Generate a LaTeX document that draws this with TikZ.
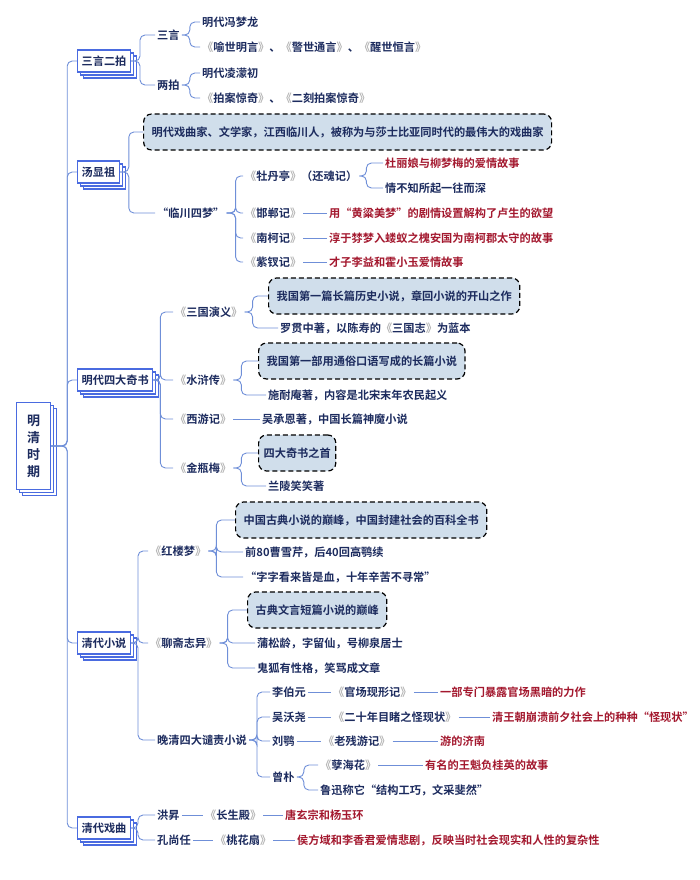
\documentclass[tikz,border=0pt]{standalone}
\usepackage{fontspec}
\setmainfont{Noto Sans CJK SC}[BoldFont={Noto Sans CJK SC Bold}]
\usetikzlibrary{shadows}
\definecolor{navy}{HTML}{1C2B5E}
\definecolor{dred}{HTML}{A3182E}
\definecolor{lineb}{HTML}{6F8FD8}
\definecolor{boxb}{HTML}{4A6BE0}
\definecolor{dfill}{HTML}{D0DEEB}
\newcommand\bk[1]{{\color{gray!60}《}#1{\color{gray!60}》}}
\newcommand\br[3]{\foreach \c in {#3}{\draw[conn] (#1.east) -- ++(#2,0) |- (\c.west);}}
\newcommand\dl[2]{\draw[conn] (#1.east) -- (#2.west);}
\begin{document}
\begin{tikzpicture}[x=1pt,y=-1pt,
 every node/.style={font=\fontsize{11.2}{13}\selectfont\bfseries, text=navy},
 t/.style={anchor=west, inner sep=2pt},
 r/.style={t, text=dred},
 conn/.style={draw=lineb, line width=0.9pt, rounded corners=5pt},
 l1/.style={draw=boxb, line width=1.2pt, fill=white, minimum height=22pt, inner sep=4pt, anchor=west,
   double copy shadow={shadow xshift=3pt, shadow yshift=-3pt, draw=boxb, fill=white, line width=1.2pt}},
 db/.style={draw=black, dashed, dash pattern=on 5pt off 3pt, line width=1.2pt, fill=dfill, rounded corners=8pt, anchor=west, inner xsep=8pt, minimum height=36pt}]
\useasboundingbox (0,0) rectangle (700,880);
\node[l1, minimum width=34pt, minimum height=87pt, align=center, font=\fontsize{13}{17}\selectfont\bfseries] (root) at (16,446) {明\\清\\时\\期};
\node[l1] (a) at (77,61) {三言二拍};
\node[l1] (b) at (77,172) {汤显祖};
\node[l1] (c) at (77,380) {明代四大奇书};
\node[l1] (d) at (77,643) {清代小说};
\node[l1] (e) at (77,828) {清代戏曲};
\br{root}{16}{a,b,c,d,e}
% a
\node[t] (a1) at (155,35) {三言};
\node[t] (a2) at (155,85) {两拍};
\br{a}{9}{a1,a2}
\node[t] (a11) at (200,22) {明代冯梦龙};
\node[t] (a12) at (200,47) {\bk{喻世明言}、\bk{警世通言}、\bk{醒世恒言}};
\node[t] (a21) at (200,73) {明代凌濛初};
\node[t] (a22) at (200,98) {\bk{拍案惊奇}、\bk{二刻拍案惊奇}};
\br{a1}{8}{a11,a12}
\br{a2}{8}{a21,a22}
% b
\node[db] (b1) at (143,132) {明代戏曲家、文学家，江西临川人，被称为与莎士比亚同时代的最伟大的戏曲家};
\node[t] (b2) at (155,213) {“临川四梦”};
\br{b}{9}{b1,b2}
\node[t] (b21) at (243,176) {\bk{牡丹亭}（还魂记）};
\node[t] (b22) at (243,213) {\bk{邯郸记}};
\node[t] (b23) at (243,238) {\bk{南柯记}};
\node[t] (b24) at (243,262) {\bk{紫钗记}};
\br{b2}{9}{b21,b22,b23,b24}
\node[r] (b211) at (383,163) {杜丽娘与柳梦梅的爱情故事};
\node[t] (b212) at (383,188) {情不知所起一往而深};
\br{b21}{7}{b211,b212}
\node[r] (b221) at (327,213) {用“黄粱美梦”的剧情设置解构了卢生的欲望};
\node[r] (b231) at (327,238) {淳于棼梦入蝼蚁之槐安国为南柯郡太守的故事};
\node[r] (b241) at (327,262) {才子李益和霍小玉爱情故事};
\dl{b22}{b221}\dl{b23}{b231}\dl{b24}{b241}
% c
\node[t] (c1) at (173,312) {\bk{三国演义}};
\node[t] (c2) at (173,380) {\bk{水浒传}};
\node[t] (c3) at (173,419) {\bk{西游记}};
\node[t] (c4) at (173,468) {\bk{金瓶梅}};
\br{c}{7}{c1,c2,c3,c4}
\node[db] (c11) at (268,296) {我国第一篇长篇历史小说，章回小说的开山之作};
\node[t] (c12) at (278,328) {罗贯中著，以陈寿的\bk{三国志}为蓝本};
\br{c1}{8}{c11,c12}
\node[db] (c21) at (258,361) {我国第一部用通俗口语写成的长篇小说};
\node[t] (c22) at (266,395) {施耐庵著，内容是北宋末年农民起义};
\br{c2}{8}{c21,c22}
\node[t] (c31) at (260,419) {吴承恩著，中国长篇神魔小说};
\dl{c3}{c31}
\node[db, inner xsep=5pt] (c41) at (258,453) {四大奇书之首};
\node[t] (c42) at (266,486) {兰陵笑笑著};
\br{c4}{8}{c41,c42}
% d
\node[t] (d1) at (148,551) {\bk{红楼梦}};
\node[t] (d2) at (148,643) {\bk{聊斋志异}};
\node[t] (d3) at (155,740) {晚清四大谴责小说};
\br{d}{7}{d1,d2,d3}
\node[db] (d11) at (235,520) {中国古典小说的巅峰，中国封建社会的百科全书};
\node[t] (d12) at (243,552) {前80曹雪芹，后40回高鹗续};
\node[t] (d13) at (243,577) {“字字看来皆是血，十年辛苦不寻常”};
\br{d1}{8}{d11,d12,d13}
\node[db] (d21) at (247,610) {古典文言短篇小说的巅峰};
\node[t] (d22) at (255,643) {蒲松龄，字留仙，号柳泉居士};
\node[t] (d23) at (255,668) {鬼狐有性格，笑骂成文章};
\br{d2}{8}{d21,d22,d23}
\node[t] (d31) at (270,692) {李伯元};
\node[t] (d32) at (270,717) {吴沃尧};
\node[t] (d33) at (270,741) {刘鹗};
\node[t] (d34) at (270,777) {曾朴};
\br{d3}{8}{d31,d32,d33,d34}
\node[t] (d311) at (331,692) {\bk{官场现形记}};
\node[r] (d312) at (438,692) {一部专门暴露官场黑暗的力作};
\dl{d31}{d311}\dl{d311}{d312}
\node[t] (d321) at (331,717) {\bk{二十年目睹之怪现状}};
\node[r] (d322) at (490,717) {清王朝崩溃前夕社会上的种种“怪现状”};
\dl{d32}{d321}\dl{d321}{d322}
\node[t] (d331) at (321,741) {\bk{老残游记}};
\node[r] (d332) at (438,741) {游的济南};
\dl{d33}{d331}\dl{d331}{d332}
\node[t] (d341) at (318,765) {\bk{孽海花}};
\node[t] (d342) at (318,790) {鲁迅称它“结构工巧，文采斐然”};
\br{d34}{7}{d341,d342}
\node[r] (d3411) at (423,765) {有名的王魁负桂英的故事};
\dl{d341}{d3411}
% e
\node[t] (e1) at (155,815) {洪昇};
\node[t] (e2) at (155,840) {孔尚任};
\br{e}{7}{e1,e2}
\node[t] (e11) at (203,815) {\bk{长生殿}};
\node[r] (e12) at (283,815) {唐玄宗和杨玉环};
\dl{e1}{e11}\dl{e11}{e12}
\node[t] (e21) at (213,840) {\bk{桃花扇}};
\node[r] (e22) at (295,840) {侯方域和李香君爱情悲剧，反映当时社会现实和人性的复杂性};
\dl{e2}{e21}\dl{e21}{e22}
\end{tikzpicture}
\end{document}
